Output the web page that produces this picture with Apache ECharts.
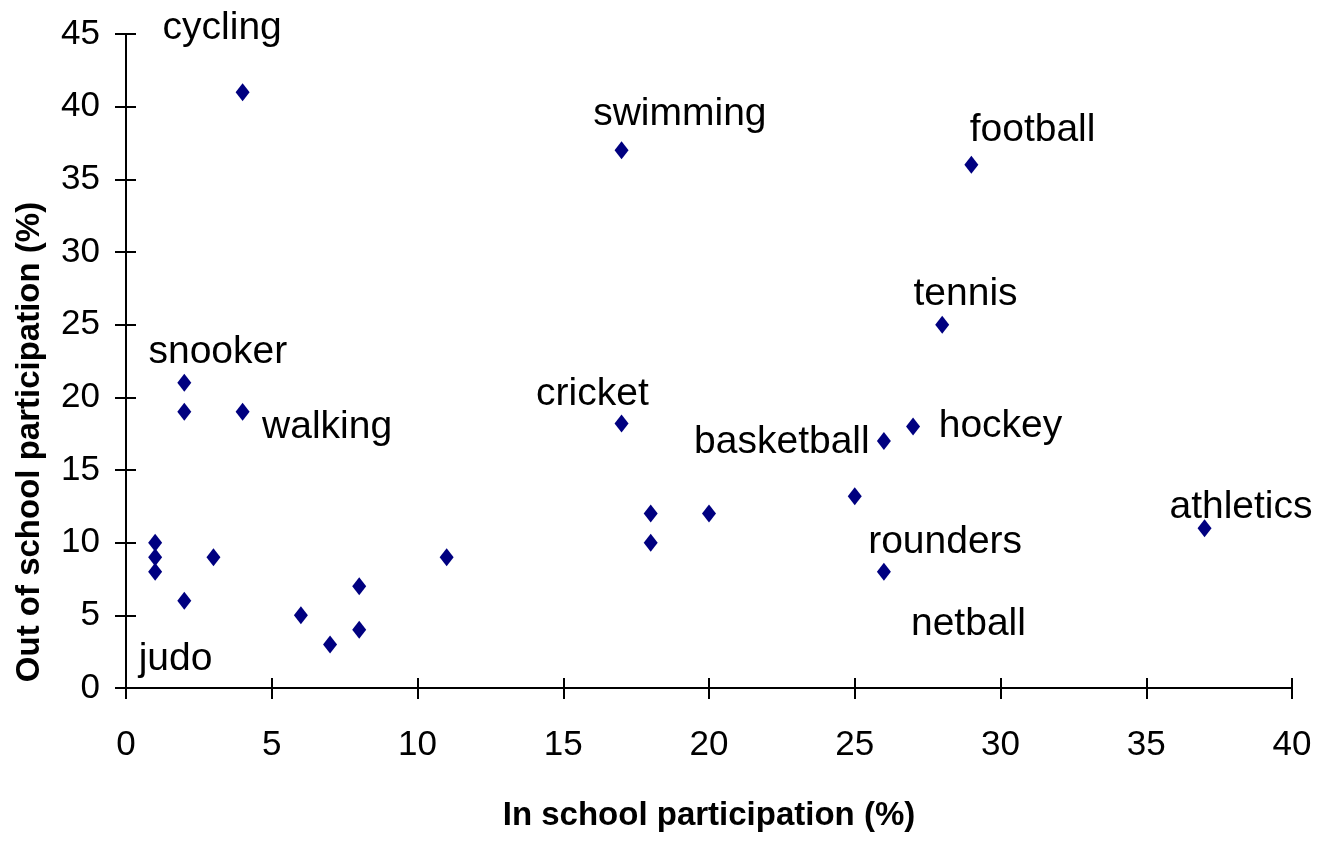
<!DOCTYPE html>
<html lang='en'>
<head>
  <meta charset='UTF-8'>
  <title>Participation</title>
  <script src="https://cdn.jsdelivr.net/npm/echarts@6/dist/echarts.min.js"></script>
  <style>
    html, body { margin: 0; padding: 0; background: #fff; }
  </style>
</head>
<body>
<div id="main" style="width: 1327px; height: 843px;"></div>
<script>
  // in school %, out of school %
  const inSchool  = [4, 17, 29, 28, 27, 26, 17, 37, 26, 25, 20, 18, 18, 11, 8, 8, 7, 6, 3, 2, 1, 1, 1, 2, 2, 4]
  const outSchool = [41, 37, 36, 25, 18, 17, 18.2, 11, 8, 13.2, 12, 12, 10, 9, 7, 4, 3, 5, 9, 6, 10, 9, 8, 21, 19, 19]

  // text annotations (anchored at centre of text)
  const labelNames = ['cycling', 'swimming', 'football', 'tennis', 'hockey', 'basketball', 'cricket', 'athletics', 'rounders', 'netball', 'snooker', 'walking', 'judo']
  const labelX = [3.3, 19.0, 31.1, 28.8, 30.0, 22.5, 16.0, 38.25, 28.1, 28.9, 3.15, 6.9, 1.7]
  const labelY = [45.4, 39.5, 38.4, 27.1, 18.0, 16.9, 20.2, 12.45, 10.05, 4.4, 23.1, 17.95, 2.0]

  const xTicks = { min: 0, max: 40, interval: 5 }
  const yTicks = { min: 0, max: 45, interval: 5 }

  const points = inSchool.map((x, i) => [x, outSchool[i]])
  const labels = labelNames.map((n, i) => [labelX[i], labelY[i], n])

  const font = 'Liberation Sans, Arial, sans-serif'

  // copy of an axis that only draws the inner half of the ticks
  function innerTicks(base) {
    return Object.assign({}, base, {
      axisLine: { show: true, lineStyle: { color: 'rgba(0,0,0,0)', width: 1 } },
      axisTick: { show: true, inside: true, length: 10, lineStyle: { color: '#000', width: 2 } },
      axisLabel: { show: false },
      name: ''
    })
  }

  const xMain = {
    type: 'value',
    position: 'bottom',
    min: xTicks.min, max: xTicks.max, interval: xTicks.interval,
    splitLine: { show: false },
    axisLine: { lineStyle: { color: '#000', width: 2 } },
    axisTick: { inside: false, length: 11, lineStyle: { color: '#000', width: 2 } },
    axisLabel: { color: '#000', fontSize: 35, fontFamily: font, margin: 40 },
    name: 'In school participation (%)',
    nameLocation: 'middle',
    nameGap: 111,
    nameTextStyle: { color: '#000', fontSize: 33, fontWeight: 'bold', fontFamily: font }
  }
  const yMain = {
    type: 'value',
    position: 'left',
    min: yTicks.min, max: yTicks.max, interval: yTicks.interval,
    splitLine: { show: false },
    axisLine: { lineStyle: { color: '#000', width: 2 } },
    axisTick: { inside: false, length: 11, lineStyle: { color: '#000', width: 2 } },
    axisLabel: { color: '#000', fontSize: 35, fontFamily: font, margin: 26 },
    name: 'Out of school participation (%)',
    nameLocation: 'middle',
    nameGap: 80,
    nameTextStyle: { color: '#000', fontSize: 33, fontWeight: 'bold', fontFamily: font, padding: [0, 162, 0, 0] }
  }

  var myChart = echarts.init(document.getElementById('main'))
  var option = {
    animation: false,
    backgroundColor: '#fff',
    grid: { left: 126, right: 35, top: 34, bottom: 155 },
    xAxis: [xMain, innerTicks(xMain)],
    yAxis: [yMain, innerTicks(yMain)],
    series: [
      {
        name: 'sports',
        type: 'scatter',
        symbol: 'diamond',
        symbolSize: [14, 18],
        itemStyle: { color: '#000080', opacity: 1 },
        data: points
      },
      {
        name: 'labels',
        type: 'scatter',
        clip: false,
        symbol: 'circle',
        symbolSize: 1,
        silent: true,
        itemStyle: { color: 'rgba(0,0,0,0)', opacity: 1 },
        label: {
          show: true,
          position: 'inside',
          formatter: p => p.value[2],
          color: '#000',
          opacity: 1,
          fontSize: 39,
          fontFamily: font
        },
        data: labels
      },
      {
        // keeps the tick-only axes alive
        name: 'ticks',
        type: 'scatter',
        xAxisIndex: 1,
        yAxisIndex: 1,
        silent: true,
        symbolSize: 0,
        data: []
      }
    ]
  }
  myChart.setOption(option)
</script>
</body>
</html>
